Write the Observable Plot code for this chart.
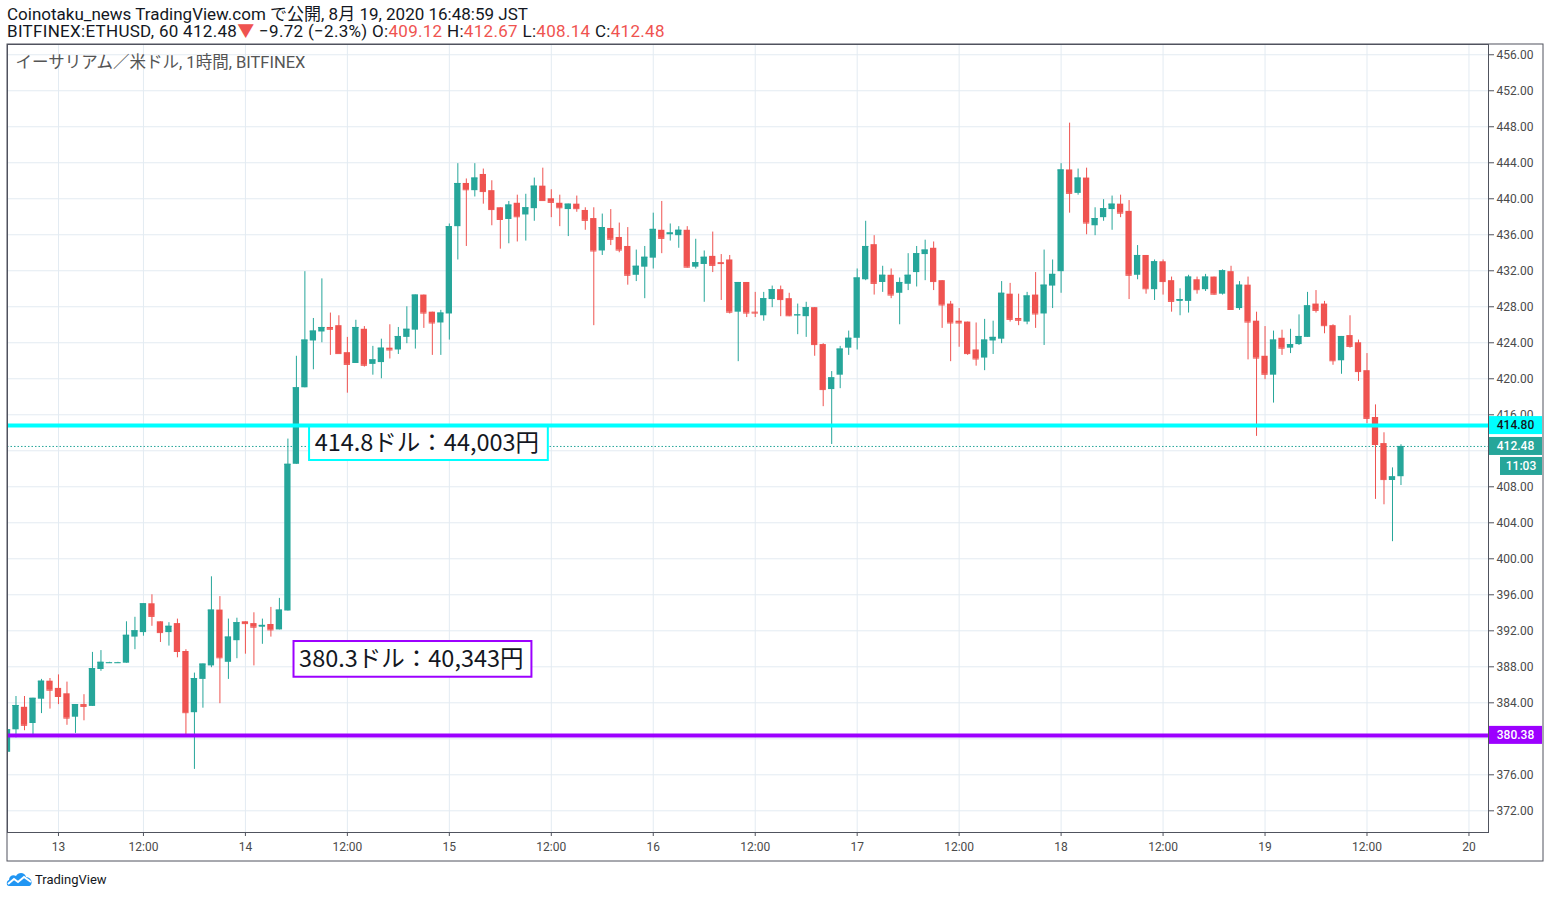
<!DOCTYPE html>
<html><head><meta charset="utf-8">
<script src="https://cdn.jsdelivr.net/npm/d3@7"></script>
<script src="https://cdn.jsdelivr.net/npm/@observablehq/plot@0.6"></script>
<style>
body{margin:0;background:#fff;width:1550px;height:898px;overflow:hidden;position:relative;}
#hdr{position:absolute;left:7px;top:6px;font-family:Roboto,"Noto Sans CJK JP",sans-serif;font-size:17px;line-height:17px;color:#131722;white-space:nowrap;}
#hdr .l2{letter-spacing:0.3px;}
#hdr .r{color:#ef5350;}
#chart{position:absolute;left:0;top:43px;}
#logo{position:absolute;left:6px;top:871px;display:flex;align-items:center;font-family:Roboto,sans-serif;font-size:13px;color:#131722;}
#logo svg{margin-right:2px;}
</style></head>
<body>
<div id="hdr">
<div>Coinotaku_news TradingView.com で公開, 8月 19, 2020 16:48:59 JST</div>
<div class="l2">BITFINEX:ETHUSD, 60 412.48<span class="r">▼</span> −9.72 (−2.3%) O:<span class="r">409.12</span> H:<span class="r">412.67</span> L:<span class="r">408.14</span> C:<span class="r">412.48</span></div>
</div>
<div id="chart"></div>
<div id="logo"><svg width="27" height="17" viewBox="0 0 27 17"><path d="M3 15 C0 15 0 10 3 9 C3 5 7 3 10 5 C12 1 19 1 20 6 C24 6 27 10 25 14 C24 15 23 15 22 15 Z" fill="#2196f3"/><path d="M2 13 L8 8 L12 11 L18 6 L25 11" fill="none" stroke="#fff" stroke-width="2"/></svg><span>TradingView</span></div>
<script>
// ---- data (hourly candles, bar index 0..164) ----
const opens = [378.5,381.0,383.5,381.7,384.4,386.4,385.6,385.0,382.4,383.8, 383.6,387.7,388.4,388.4,388.4,391.3,391.8,395.0,393.0,391.8, 392.8,389.7,382.9,386.6,388.1,394.3,388.5,390.9,393.0,392.8, 392.4,392.7,392.1,394.2,410.5,419.0,424.2,425.2,425.7,425.9, 422.9,421.7,425.5,421.6,421.8,423.4,423.2,424.6,425.4,429.3, 427.4,426.2,427.2,436.9,441.7,440.9,442.7,440.9,439.0,437.7, 439.5,438.2,438.9,441.4,440.0,439.5,438.8,439.4,438.7,437.8, 434.2,436.7,435.7,434.7,431.5,432.4,433.4,436.5,436.0,435.9, 436.5,432.4,432.7,433.6,432.9,433.2,427.4,430.7,427.4,427.0, 428.8,429.9,428.9,427.0,426.9,427.9,423.8,418.8,420.4,423.4, 424.5,431.0,434.9,430.7,431.5,429.5,430.5,431.8,433.8,434.5, 430.9,428.3,426.4,426.3,423.2,422.3,424.2,424.4,429.4,426.7, 426.3,429.3,427.2,430.3,431.9,443.2,440.6,442.3,437.0,437.9, 438.8,439.4,438.6,431.5,433.7,429.9,433.0,430.9,428.6,428.6, 431.0,429.9,431.3,429.4,431.9,427.8,430.4,426.4,422.5,420.4, 424.5,423.4,423.8,424.6,428.3,428.3,425.9,422.0,424.8,424.0, 420.9,415.7,412.8,408.7,409.12];
const highs = [381.9,384.7,384.7,384.5,386.6,386.7,387.1,386.3,383.8,384.9, 389.6,389.8,388.5,388.5,393.0,393.5,395.0,396.0,393.0,392.9, 393.3,389.9,387.3,388.3,398.0,395.8,393.3,393.4,393.0,394.0, 393.3,394.6,395.6,413.3,422.5,431.9,426.7,431.1,427.3,427.0, 424.6,426.5,425.8,423.6,424.4,426.0,425.7,428.0,429.3,429.3, 427.4,427.6,437.2,443.9,442.2,443.9,443.3,442.0,439.0,439.7, 440.4,440.5,442.3,443.4,441.0,440.4,439.4,440.3,439.0,439.0, 438.3,438.8,437.3,436.8,434.3,434.7,438.4,439.7,437.2,436.9, 436.9,435.5,434.2,436.3,433.8,433.7,430.7,430.7,429.6,429.6, 430.3,430.3,429.5,428.3,428.5,427.9,423.9,420.8,423.6,425.3, 432.2,437.5,435.9,432.5,432.2,431.2,433.9,434.7,435.4,435.2, 430.9,428.6,427.8,426.3,426.2,426.6,426.4,430.8,430.6,429.4, 429.6,431.8,434.3,433.2,443.9,448.4,443.3,443.4,439.0,439.9, 440.3,440.4,439.8,434.8,433.7,433.2,433.2,431.3,430.0,431.5, 431.3,431.6,431.3,432.1,432.5,430.8,431.3,427.4,425.8,425.3, 425.4,425.5,427.1,429.6,429.8,428.6,426.0,424.7,427.0,424.3, 422.8,417.1,414.0,410.1,412.67];
const lows = [378.1,380.1,380.9,380.2,382.8,383.3,383.8,381.5,380.6,382.0, 383.6,387.5,388.4,388.4,388.4,389.9,391.4,392.5,390.7,390.3, 389.0,380.4,376.6,383.4,387.9,383.9,386.6,388.9,389.4,388.1, 390.5,391.3,392.1,394.2,410.5,419.0,421.0,424.0,422.6,422.8, 418.4,421.7,421.3,420.4,420.0,422.2,422.7,423.9,423.3,425.6, 422.6,422.6,424.3,433.2,434.7,440.2,439.4,437.0,434.4,435.0, 435.2,435.3,437.5,439.8,437.9,436.9,435.8,438.5,436.5,425.9, 433.7,434.8,434.0,430.4,430.8,428.9,432.2,433.9,435.3,434.5, 432.3,432.2,428.5,431.8,428.7,427.2,421.9,426.8,426.8,426.4, 427.9,426.9,426.9,424.9,424.6,422.5,416.9,412.7,418.9,422.6, 423.2,430.9,429.3,429.6,428.9,426.0,429.8,430.2,430.9,429.8, 425.6,421.9,423.5,422.6,421.4,420.9,422.7,423.9,426.3,425.9, 426.0,425.6,423.7,427.8,429.5,438.4,440.4,436.0,435.9,437.5, 436.5,437.9,428.8,431.0,429.4,428.7,429.3,427.4,427.0,427.3, 429.4,429.7,429.3,429.3,427.7,427.6,422.1,413.6,419.9,417.3, 422.6,422.8,423.7,424.6,427.3,425.0,421.5,420.5,423.4,419.7, 415.0,406.6,406.0,401.9,408.14];
const closes = [381.0,383.7,381.5,384.5,386.4,385.4,384.7,382.3,383.8,383.6, 387.8,388.5,388.45,388.45,391.5,392.0,395.0,393.6,391.8,392.5, 389.7,382.9,386.7,388.3,394.3,389.0,391.3,392.9,392.8,392.4, 392.6,392.1,394.3,410.5,419.0,424.3,425.3,425.7,425.5,422.8, 421.6,425.7,421.5,422.1,423.4,423.2,424.7,425.5,429.3,427.3, 426.2,427.3,436.9,441.7,441.0,442.3,440.8,438.8,437.7,439.3, 438.0,439.0,441.4,439.8,439.6,439.0,439.4,438.9,437.6,434.2, 436.8,435.5,434.3,431.5,432.5,433.5,436.6,435.6,436.2,436.5, 432.4,432.9,433.5,432.6,432.8,427.4,430.7,427.3,427.3,428.9, 429.9,428.8,427.0,427.1,427.9,423.8,418.8,420.1,423.3,424.5, 431.2,434.7,430.6,431.5,429.3,430.7,431.5,433.9,434.3,430.8, 428.2,426.2,426.2,422.8,422.2,424.3,424.6,429.5,426.6,426.5, 429.2,427.2,430.4,431.6,443.2,440.6,442.3,437.3,437.8,438.9, 439.4,438.4,431.5,433.7,430.0,433.0,430.8,428.6,428.8,431.3, 429.9,431.3,429.4,432.0,427.7,430.4,426.3,422.3,420.5,424.3, 423.4,423.8,424.7,428.1,427.6,425.9,422.0,424.7,423.6,420.8, 415.6,412.7,408.8,409.1,412.48];

// time axis: bar index of each tick and its label
const timeTickBars = [6,16,28,40,52,64,76,88,100,112,124,136,148,160,172];
const timeTickLabels = ["13","12:00","14","12:00","15","12:00","16","12:00","17","12:00","18","12:00","19","12:00","20"];
// price axis ticks
const priceTicks = [372,376,380,384,388,392,396,400,404,408,412,416,420,424,428,432,436,440,444,448,452,456];
// horizontal levels
const levelUpper = 414.80;
const levelLower = 380.38;
const lastPrice = 412.48;
const countdown = "11:03";
// annotations (anchored in bar index / price units)
const noteTexts = ["414.8ドル：44,003円", "380.3ドル：40,343円"];
const noteBarStart = [35.55, 33.72];
const noteBarEnd = [63.65, 61.72];
const notePriceTop = [414.70, 390.81];
const notePriceBottom = [410.92, 386.84];
const chartTitle = "イーサリアム／米ドル, 1時間, BITFINEX";

// ---- build ----
const G = "#26a69a", R = "#ef5350", CY = "#00ffff", PU = "#9c00ff", GRID = "#e3ebf2", AX = "#50535e";
const bars = opens.map((o, i) => ({i, o, h: highs[i], l: lows[i], c: closes[i], up: closes[i] >= o}));
const up = bars.filter(d => d.up), dn = bars.filter(d => !d.up);
const notes = noteTexts.map((t, k) => ({t, x1: noteBarStart[k], x2: noteBarEnd[k], y1: notePriceBottom[k], y2: notePriceTop[k], col: k === 0 ? CY : PU}));
const tickLabelOf = new Map(timeTickBars.map((b, k) => [b, timeTickLabels[k]]));
// labels fully hidden behind the price tags are not written
const labelledTicks = priceTicks.filter(v => Math.abs(v - lastPrice) > 1 && Math.abs(v - levelLower) > 1);
const hw = 0.37;

const W = 1550, H = 820;
const chart = Plot.plot({
  width: W, height: H,
  marginLeft: 7, marginRight: 62, marginTop: 1, marginBottom: 31,
  style: {fontFamily: "Roboto, 'Noto Sans CJK JP', sans-serif", color: AX, background: "#fff"},
  x: {type: "linear", domain: [0, 174.3], axis: null},
  y: {domain: [369.59, 457.14], axis: null},
  marks: [
    Plot.gridY(priceTicks, {stroke: GRID, strokeOpacity: 1}),
    Plot.gridX(timeTickBars, {stroke: GRID, strokeOpacity: 1}),
    Plot.ruleY([lastPrice], {stroke: G, strokeWidth: 1, strokeDasharray: "1.5,2"}),
    Plot.rect(notes, {x1: "x1", x2: "x2", y1: "y1", y2: "y2", fill: "#fff", stroke: d => d.col, strokeWidth: 2}),
    Plot.text(notes, {x: d => d.x1 + 0.6, y: d => (d.y1 + d.y2) / 2, text: "t", textAnchor: "start", fontSize: 23.5, fill: "#131722", fontFamily: "'Noto Sans CJK JP', sans-serif"}),
    Plot.ruleX(up, {x: "i", y1: "l", y2: "h", stroke: G, strokeWidth: 1, clip: true}),
    Plot.ruleX(dn, {x: "i", y1: "l", y2: "h", stroke: R, strokeWidth: 1, clip: true}),
    Plot.rect(up, {x1: d => d.i - hw, x2: d => d.i + hw, y1: "o", y2: "c", fill: G, clip: true}),
    Plot.rect(dn, {x1: d => d.i - hw, x2: d => d.i + hw, y1: "o", y2: "c", fill: R, clip: true}),
    Plot.ruleY(up, {y: "c", x1: d => d.i - hw, x2: d => d.i + hw, stroke: G, clip: true}),
    Plot.ruleY(dn, {y: "c", x1: d => d.i - hw, x2: d => d.i + hw, stroke: R, clip: true}),
    Plot.ruleY([levelUpper], {stroke: CY, strokeWidth: 4}),
    Plot.ruleY([levelLower], {stroke: PU, strokeWidth: 4}),
    Plot.text([chartTitle], {frameAnchor: "top-left", dx: 8, dy: 12, fontSize: 16.5, fill: "#555", textAnchor: "start"}),
    Plot.axisY(priceTicks, {anchor: "right", tickFormat: () => "", tickSize: 5, stroke: AX}),
    Plot.axisY(labelledTicks, {anchor: "right", tickFormat: d => d.toFixed(2), tickSize: 0, tickPadding: 8, fontSize: 12, fill: "#4a4a4a"}),
    Plot.axisX(timeTickBars, {anchor: "bottom", tickFormat: d => tickLabelOf.get(d), tickSize: 4, tickPadding: 6, fontSize: 12, stroke: AX, fill: "#4a4a4a"}),
    Plot.frame({stroke: AX})
  ]
});
document.getElementById("chart").appendChild(chart);

// outer border and price-axis tags, placed with the chart's own y scale
const ys = chart.scale("y");
const svg = d3.select(chart);
svg.append("rect").attr("x", 7).attr("y", 1).attr("width", 1536).attr("height", 817)
  .attr("fill", "none").attr("stroke", AX);
function priceTag(v, bg, fg, label, x0, dy) {
  const cy = ys.apply(v) + dy;
  svg.append("rect").attr("x", x0).attr("y", cy - 9).attr("width", 1542 - x0).attr("height", 18).attr("fill", bg);
  svg.append("text").attr("x", (x0 + 1542) / 2).attr("y", cy).attr("dy", "0.35em")
    .attr("text-anchor", "middle").attr("font-size", 12).attr("font-weight", 500)
    .attr("fill", fg).text(label);
}
priceTag(levelUpper, CY, "#131722", levelUpper.toFixed(2), 1489, 0);
priceTag(lastPrice, G, "#fff", lastPrice.toFixed(2), 1489, 0);
priceTag(lastPrice, G, "#fff", countdown, 1500, 20);
priceTag(levelLower, PU, "#fff", levelLower.toFixed(2), 1489, 0);
</script>
</body></html>
